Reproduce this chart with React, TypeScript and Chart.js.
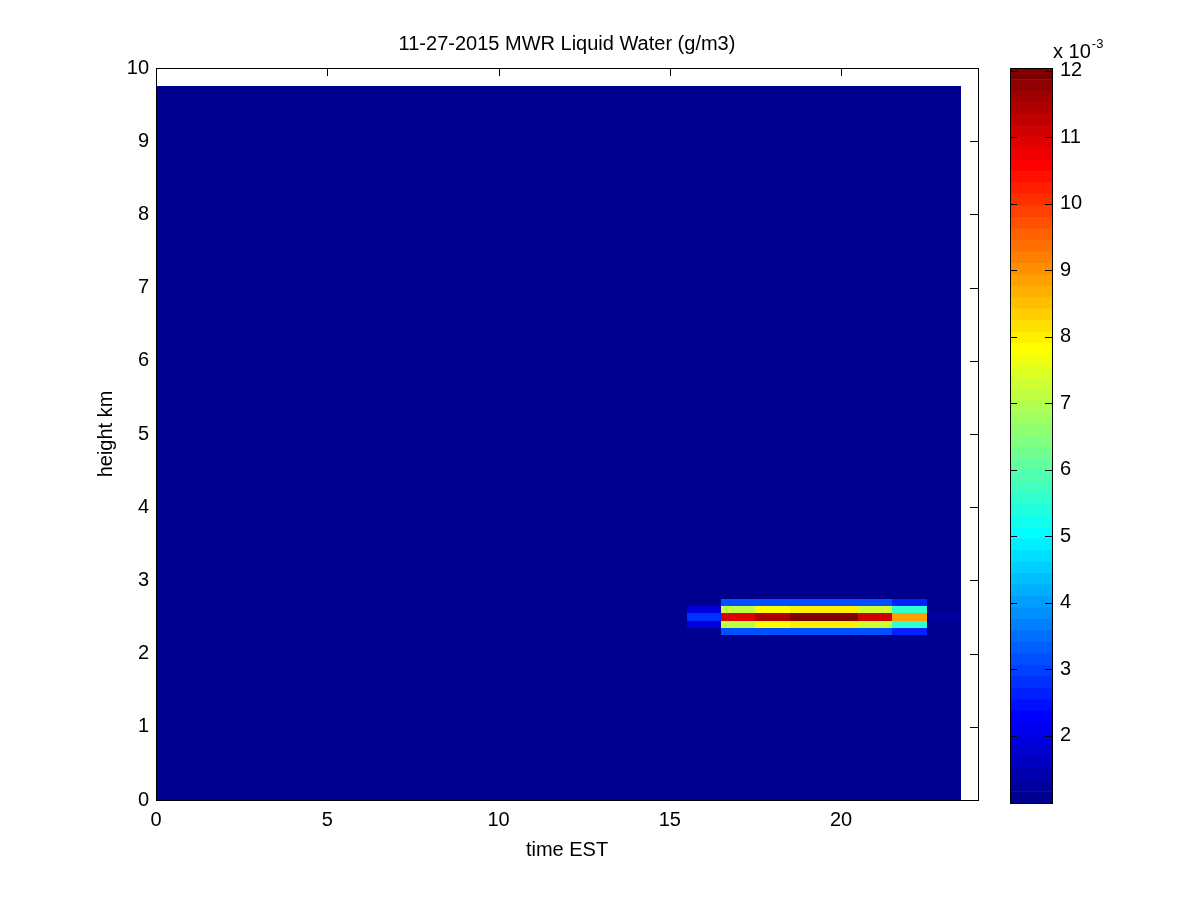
import React, { useEffect, useRef } from "react";
import { Chart, registerables } from "chart.js";

Chart.register(...registerables);

// ---------- text ----------
const TITLE = "11-27-2015 MWR Liquid Water (g/m3)";
const X_TITLE = "time EST";
const Y_TITLE = "height km";
const CB_SCALE_BASE = "x 10";
const CB_SCALE_EXP = "-3";

// ---------- axes ----------
const X_MIN = 0;
const X_MAX = 24;
const Y_MIN = 0;
const Y_MAX = 10;
const X_TICKS = [0, 5, 10, 15, 20];
const Y_TICKS = [0, 1, 2, 3, 4, 5, 6, 7, 8, 9, 10];
const CB_TICKS = [2, 3, 4, 5, 6, 7, 8, 9, 10, 11, 12];

// ---------- data (liquid water, x 1e-3 g/m3) ----------
const FIELD_TIME_SPAN = [0, 23.5]; // hours EST
const FIELD_HEIGHT_SPAN = [0, 9.75]; // km
const BACKGROUND_LWC = 0.99;

const CLOUD_TIME_EDGES = [15.5, 16.5, 17.5, 18.5, 19.5, 20.5, 21.5, 22.5, 23.5];
const CLOUD_HEIGHT_EDGES = [2.25, 2.35, 2.45, 2.55, 2.65, 2.75];
const LWC_2_3 = [0.99, 3.1, 3.15, 3.15, 3.15, 3.1, 2.6, 0.99];
const LWC_2_4 = [1.9, 7.1, 7.8, 7.95, 7.9, 7.3, 5.6, 0.99];
const LWC_2_5 = [2.8, 11.0, 11.5, 12.04, 11.95, 11.1, 8.85, 1.25];
const LWC_2_6 = [1.9, 7.1, 7.8, 7.95, 7.9, 7.3, 5.6, 0.99];
const LWC_2_7 = [0.99, 3.1, 3.15, 3.15, 3.15, 3.1, 2.6, 0.99];
const CLOUD_ROWS = [LWC_2_3, LWC_2_4, LWC_2_5, LWC_2_6, LWC_2_7];

const ALL_VALUES = [BACKGROUND_LWC, ...CLOUD_ROWS.flat()];
const C_MIN = Math.min(...ALL_VALUES);
const C_MAX = Math.max(...ALL_VALUES);
const N_COLORS = 64;

const FONT_FAMILY = "'Liberation Sans', Arial, Helvetica, sans-serif";

function jetColor(k: number, m: number = N_COLORS): string {
  const n = Math.ceil(m / 4);
  const u = (i: number) => {
    if (i < 1 || i > 3 * n - 1) return 0;
    if (i <= n) return i / n;
    if (i <= 2 * n - 1) return 1;
    return (3 * n - i) / n;
  };
  const g0 = Math.ceil(n / 2) - (m % 4 === 1 ? 1 : 0);
  const r = u(k - g0 - n);
  const g = u(k - g0);
  const b = u(k - g0 + n);
  return `rgb(${Math.round(r * 255)},${Math.round(g * 255)},${Math.round(b * 255)})`;
}

function colorFor(v: number): string {
  let k = Math.floor(((v - C_MIN) / (C_MAX - C_MIN)) * N_COLORS) + 1;
  k = Math.max(1, Math.min(N_COLORS, k));
  return jetColor(k);
}

const heatmapPlugin = {
  id: "heatmap",
  beforeDatasetsDraw(chart: any) {
    const { ctx, chartArea } = chart;
    const xs = chart.scales.x;
    const ys = chart.scales.y;
    const tl = 8;
    ctx.save();
    ctx.strokeStyle = "#000";
    ctx.lineWidth = 1;
    ctx.beginPath();
    Y_TICKS.forEach((v) => {
      const p = Math.round(ys.getPixelForValue(v)) + 0.5;
      ctx.moveTo(chartArea.left, p);
      ctx.lineTo(chartArea.left + tl, p);
      ctx.moveTo(chartArea.right, p);
      ctx.lineTo(chartArea.right - tl, p);
    });
    X_TICKS.forEach((v) => {
      const p = Math.round(xs.getPixelForValue(v)) + 0.5;
      ctx.moveTo(p, chartArea.bottom);
      ctx.lineTo(p, chartArea.bottom - tl);
      ctx.moveTo(p, chartArea.top);
      ctx.lineTo(p, chartArea.top + tl);
    });
    ctx.stroke();

    const cell = (t0: number, t1: number, h0: number, h1: number, v: number) => {
      const x0 = Math.round(xs.getPixelForValue(t0));
      const x1 = Math.round(xs.getPixelForValue(t1));
      const y0 = Math.round(ys.getPixelForValue(h1));
      const y1 = Math.round(ys.getPixelForValue(h0));
      ctx.fillStyle = colorFor(v);
      ctx.fillRect(x0, y0, x1 - x0, y1 - y0);
    };
    cell(FIELD_TIME_SPAN[0], FIELD_TIME_SPAN[1], FIELD_HEIGHT_SPAN[0], FIELD_HEIGHT_SPAN[1], BACKGROUND_LWC);
    CLOUD_ROWS.forEach((row, j) => {
      row.forEach((v, i) => {
        cell(CLOUD_TIME_EDGES[i], CLOUD_TIME_EDGES[i + 1], CLOUD_HEIGHT_EDGES[j], CLOUD_HEIGHT_EDGES[j + 1], v);
      });
    });
    ctx.restore();
  },
  afterDraw(chart: any) {
    const { ctx, chartArea } = chart;
    ctx.save();
    ctx.strokeStyle = "#000";
    ctx.lineWidth = 1;
    ctx.strokeRect(chartArea.left + 0.5, chartArea.top + 0.5, chartArea.right - chartArea.left, chartArea.bottom - chartArea.top);
    ctx.fillStyle = "#000";
    ctx.font = `20px ${FONT_FAMILY}`;
    ctx.textAlign = "center";
    ctx.textBaseline = "alphabetic";
    const cx = (chartArea.left + chartArea.right) / 2;
    ctx.fillText(TITLE, cx, chartArea.top - 18);
    ctx.fillText(X_TITLE, cx, chartArea.bottom + 56);
    ctx.translate(chartArea.left - 50, (chartArea.top + chartArea.bottom) / 2);
    ctx.rotate(-Math.PI / 2);
    ctx.textBaseline = "middle";
    ctx.fillText(Y_TITLE, 0, 0);
    ctx.restore();
  },
};

const colorbarPlugin = {
  id: "colorbarFrame",
  afterDatasetsDraw(chart: any) {
    const { ctx, chartArea } = chart;
    const ys = chart.scales.y;
    const tl = 7;
    ctx.save();
    ctx.strokeStyle = "#000";
    ctx.lineWidth = 1;
    ctx.beginPath();
    CB_TICKS.forEach((v) => {
      const p = Math.round(ys.getPixelForValue(v)) + 0.5;
      ctx.moveTo(chartArea.left, p);
      ctx.lineTo(chartArea.left + tl, p);
      ctx.moveTo(chartArea.right, p);
      ctx.lineTo(chartArea.right - tl, p);
    });
    ctx.stroke();
    ctx.strokeRect(chartArea.left + 0.5, chartArea.top + 0.5, chartArea.right - chartArea.left, chartArea.bottom - chartArea.top);
    ctx.fillStyle = "#000";
    ctx.textAlign = "left";
    ctx.textBaseline = "alphabetic";
    ctx.font = `20px ${FONT_FAMILY}`;
    const bx = chartArea.right + 1;
    ctx.fillText(CB_SCALE_BASE, bx, chartArea.top - 10);
    const w = ctx.measureText(CB_SCALE_BASE).width;
    ctx.font = `13px ${FONT_FAMILY}`;
    ctx.fillText(CB_SCALE_EXP, bx + w + 1, chartArea.top - 20);
    ctx.restore();
  },
};

const tickFont = { family: FONT_FAMILY, size: 20 };

export default function App() {
  const mainRef = useRef<HTMLCanvasElement | null>(null);
  const cbRef = useRef<HTMLCanvasElement | null>(null);

  useEffect(() => {
    document.body.style.margin = "0";
    const main = new Chart(mainRef.current as HTMLCanvasElement, {
      type: "scatter",
      data: { datasets: [{ data: [], pointRadius: 0 }] },
      options: {
        animation: false,
        responsive: false,
        maintainAspectRatio: false,
        layout: { padding: { top: 68, right: 222, left: 0, bottom: 0 } },
        plugins: { legend: { display: false }, tooltip: { enabled: false } },
        scales: {
          x: {
            type: "linear",
            min: X_MIN,
            max: X_MAX,
            grid: { display: false, drawTicks: false },
            border: { display: false },
            ticks: { color: "#000", font: tickFont, padding: 8, maxRotation: 0, autoSkip: false },
            afterBuildTicks: (s: any) => {
              s.ticks = X_TICKS.map((v) => ({ value: v }));
            },
            afterFit: (s: any) => {
              s.height = 100;
            },
          },
          y: {
            type: "linear",
            min: Y_MIN,
            max: Y_MAX,
            grid: { display: false, drawTicks: false },
            border: { display: false },
            ticks: { color: "#000", font: tickFont, padding: 7, autoSkip: false },
            afterBuildTicks: (s: any) => {
              s.ticks = Y_TICKS.map((v) => ({ value: v }));
            },
            afterFit: (s: any) => {
              s.width = 156;
            },
          },
        },
      } as any,
      plugins: [heatmapPlugin],
    });

    const step = (C_MAX - C_MIN) / N_COLORS;
    const levels = Array.from({ length: N_COLORS }, (_, i) => i + 1);
    const cb = new Chart(cbRef.current as HTMLCanvasElement, {
      type: "bar",
      data: {
        labels: [""],
        datasets: levels.map((k) => ({
          data: [[C_MIN + (k - 1) * step, C_MIN + k * step]],
          backgroundColor: jetColor(k),
          borderWidth: 0,
          grouped: false,
          barPercentage: 1,
          categoryPercentage: 1,
        })),
      } as any,
      options: {
        animation: false,
        responsive: false,
        maintainAspectRatio: false,
        layout: { padding: { top: 68, left: 10, right: 0, bottom: 97 } },
        plugins: { legend: { display: false }, tooltip: { enabled: false } },
        scales: {
          x: { display: false },
          y: {
            type: "linear",
            position: "right",
            min: C_MIN,
            max: C_MAX,
            grid: { display: false, drawTicks: false },
            border: { display: false },
            ticks: { color: "#000", font: tickFont, padding: 8, autoSkip: false },
            afterBuildTicks: (s: any) => {
              s.ticks = CB_TICKS.map((v) => ({ value: v }));
            },
            afterFit: (s: any) => {
              s.width = 148;
            },
          },
        },
      } as any,
      plugins: [colorbarPlugin],
    });

    return () => {
      main.destroy();
      cb.destroy();
    };
  }, []);

  return (
    <div style={{ position: "relative", width: 1200, height: 900, background: "#fff" }}>
      <canvas ref={mainRef} width={1200} height={900} style={{ position: "absolute", left: 0, top: 0 }} />
      <canvas ref={cbRef} width={200} height={900} style={{ position: "absolute", left: 1000, top: 0 }} />
    </div>
  );
}
